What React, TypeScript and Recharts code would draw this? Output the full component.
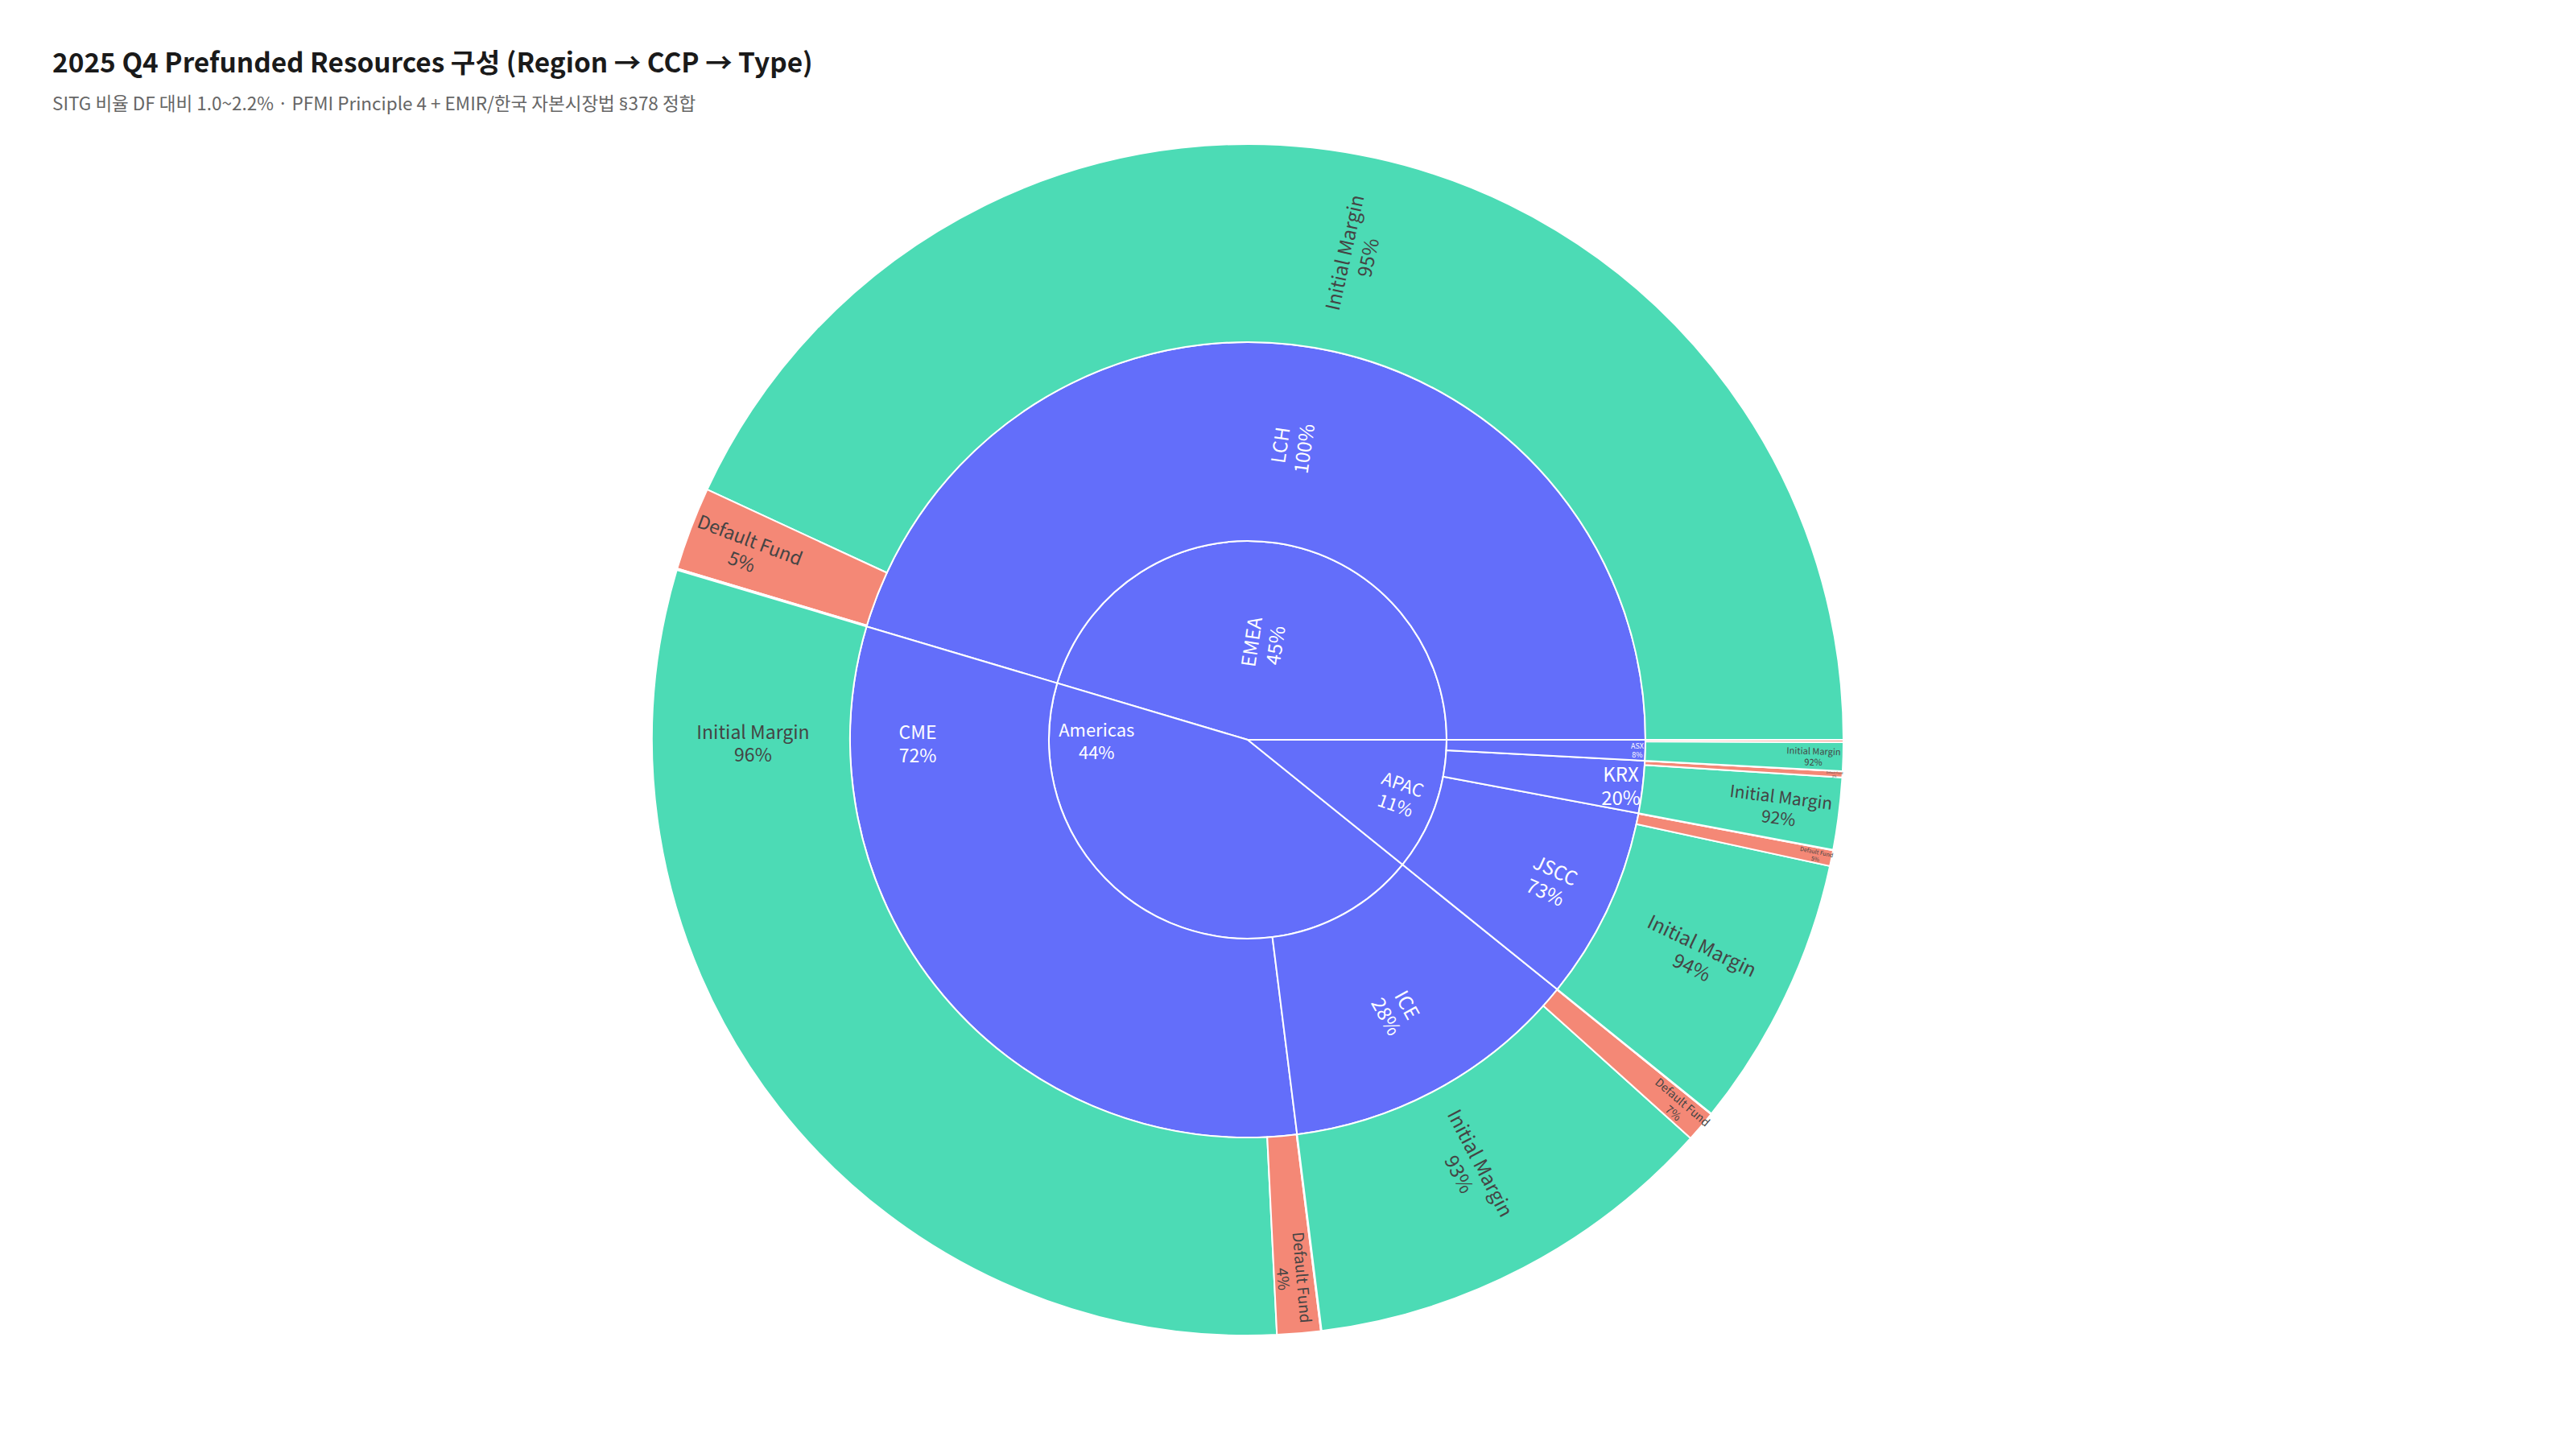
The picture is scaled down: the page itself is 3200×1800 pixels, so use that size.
import React from "react";
import { PieChart, Pie, Cell } from "recharts";

// hierarchy: Region -> CCP -> Type (values in USD bn)
const regions = ["EMEA", "Americas", "APAC"];
const ccps = ["LCH", "CME", "ICE", "JSCC", "KRX", "ASX"];
const ccpRegion = ["EMEA", "Americas", "Americas", "APAC", "APAC", "APAC"];
const types = ["Initial Margin", "Default Fund", "SITG"];
const initialMargin = [431.0, 303.8, 113.6, 74.0, 19.54, 7.74];
const defaultFund = [22.6, 11.8, 8.45, 4.28, 1.63, 0.64];
const sitg = [0.4, 0.2, 0.15, 0.12, 0.03, 0.02];

const BLUE = "#636efa";
const TYPE_FILL: Record<string, string> = {
  "Initial Margin": "#4cdbb5",
  "Default Fund": "#f48876",
  SITG: "#c492fb",
};

const CX = 1550;
const CY = 919;
const R1 = 247;
const R2 = 494;
const R3 = 740;
const FONT = "'Noto Sans CJK KR', 'Noto Sans', sans-serif";

type Row = { id: string; name: string; value: number; parentTotal: number; leaf: boolean };

const ccpTotals = ccps.map((_, i) => initialMargin[i] + defaultFund[i] + sitg[i]);
const regionTotals = regions.map((r) =>
  ccps.reduce((s, _, i) => (ccpRegion[i] === r ? s + ccpTotals[i] : s), 0)
);
const grandTotal = regionTotals.reduce((a, b) => a + b, 0);

const regionRows: Row[] = regions.map((r, i) => ({
  id: r,
  name: r,
  value: regionTotals[i],
  parentTotal: grandTotal,
  leaf: false,
}));

const orderedCcp = regions.flatMap((r) => ccps.map((c, i) => i).filter((i) => ccpRegion[i] === r));

const ccpRows: Row[] = orderedCcp.map((i) => ({
  id: ccps[i],
  name: ccps[i],
  value: ccpTotals[i],
  parentTotal: regionTotals[regions.indexOf(ccpRegion[i])],
  leaf: false,
}));

const typeRows: Row[] = orderedCcp.flatMap((i) => {
  const vals = [initialMargin[i], defaultFund[i], sitg[i]];
  return types.map((t, k) => ({
    id: `${ccps[i]}|${t}`,
    name: t,
    value: vals[k],
    parentTotal: ccpTotals[i],
    leaf: true,
  }));
});

// text placement per sector: orientation, font size, radial / angular fraction inside the sector
type LabelStyle = { o: "r" | "h"; fs: number; rf: number; af?: number };
const LABELS: Record<string, LabelStyle> = {
  EMEA: { o: "r", fs: 24, rf: 0.49 },
  Americas: { o: "h", fs: 22, rf: 0.76, af: 0.105 },
  APAC: { o: "r", fs: 22, rf: 0.81 },
  LCH: { o: "r", fs: 24, rf: 0.49 },
  CME: { o: "h", fs: 23, rf: 0.66, af: 0.15 },
  ICE: { o: "r", fs: 24, rf: 0.555 },
  JSCC: { o: "r", fs: 24, rf: 0.68 },
  KRX: { o: "h", fs: 24, rf: 0.89 },
  ASX: { o: "h", fs: 9, rf: 0.96 },
  "LCH|Initial Margin": { o: "r", fs: 24, rf: 0.5 },
  "LCH|Default Fund": { o: "r", fs: 23, rf: 0.7 },
  "CME|Initial Margin": { o: "h", fs: 23, rf: 0.49, af: 0.154 },
  "CME|Default Fund": { o: "r", fs: 19, rf: 0.72 },
  "ICE|Initial Margin": { o: "r", fs: 24, rf: 0.43 },
  "ICE|Default Fund": { o: "r", fs: 14, rf: 0.85 },
  "JSCC|Initial Margin": { o: "r", fs: 24, rf: 0.51 },
  "JSCC|Default Fund": { o: "r", fs: 7, rf: 0.92 },
  "KRX|Initial Margin": { o: "r", fs: 21, rf: 0.7 },
  "KRX|Default Fund": { o: "r", fs: 3.5, rf: 0.96 },
  "ASX|Initial Margin": { o: "r", fs: 11, rf: 0.85 },
};

const RAD = Math.PI / 180;

function renderLabel(props: any) {
  const p: Row = props.payload;
  const st = LABELS[p.id];
  if (!st) return null;
  const a0 = props.startAngle;
  const a1 = props.endAngle;
  const ang = a0 + (a1 - a0) * (st.af ?? 0.5);
  const r = props.innerRadius + (props.outerRadius - props.innerRadius) * st.rf;
  const x = props.cx + r * Math.cos(ang * RAD);
  const y = props.cy - r * Math.sin(ang * RAD);
  let rot = 0;
  if (st.o === "r") {
    rot = -ang;
    while (rot <= -90) rot += 180;
    while (rot > 90) rot -= 180;
  }
  const pct = Math.round((p.value / p.parentTotal) * 100) + "%";
  const fill = p.leaf ? "#444" : "#fff";
  return (
    <g key={p.id} transform={`translate(${x},${y}) rotate(${rot})`}>
      <text
        textAnchor="middle"
        dominantBaseline="central"
        fontSize={st.fs}
        fontFamily={FONT}
        fill={fill}
      >
        <tspan x={0} y={-0.62 * st.fs}>{p.name}</tspan>
        <tspan x={0} y={0.62 * st.fs}>{pct}</tspan>
      </text>
    </g>
  );
}

export default function App() {
  return (
    <div style={{ position: "absolute", left: 0, top: 0, width: 3200, height: 1800, background: "#fff" }}>
      <div
        style={{
          position: "absolute",
          left: 65,
          top: 59,
          fontFamily: FONT,
          fontSize: 33.4,
          fontWeight: 700,
          lineHeight: 1,
          color: "#1a1a1a",
          whiteSpace: "nowrap",
        }}
      >
        2025 Q4 Prefunded Resources 구성 (Region → CCP → Type)
      </div>
      <div
        style={{
          position: "absolute",
          left: 65,
          top: 116,
          fontFamily: FONT,
          fontSize: 22.5,
          lineHeight: 1,
          color: "#666",
          whiteSpace: "nowrap",
        }}
      >
        SITG 비율 DF 대비 1.0~2.2% · PFMI Principle 4 + EMIR/한국 자본시장법{" "}
        <span style={{ fontFamily: "'Noto Sans', sans-serif" }}>§</span>378 정합
      </div>
      <div style={{ position: "absolute", left: 0, top: 0 }}>
        <PieChart width={3200} height={1800} margin={{ top: 0, right: 0, bottom: 0, left: 0 }}>
          <Pie
            data={regionRows}
            dataKey="value"
            nameKey="name"
            cx={CX}
            cy={CY}
            innerRadius={0}
            outerRadius={R1}
            startAngle={0}
            endAngle={360}
            stroke="#fff"
            strokeWidth={2}
            label={renderLabel}
            labelLine={false}
            isAnimationActive={false}
          >
            {regionRows.map((r) => (
              <Cell key={r.id} fill={BLUE} />
            ))}
          </Pie>
          <Pie
            data={ccpRows}
            dataKey="value"
            nameKey="name"
            cx={CX}
            cy={CY}
            innerRadius={R1}
            outerRadius={R2}
            startAngle={0}
            endAngle={360}
            stroke="#fff"
            strokeWidth={2}
            label={renderLabel}
            labelLine={false}
            isAnimationActive={false}
          >
            {ccpRows.map((r) => (
              <Cell key={r.id} fill={BLUE} />
            ))}
          </Pie>
          <Pie
            data={typeRows}
            dataKey="value"
            nameKey="name"
            cx={CX}
            cy={CY}
            innerRadius={R2}
            outerRadius={R3}
            startAngle={0}
            endAngle={360}
            stroke="#fff"
            strokeWidth={2}
            label={renderLabel}
            labelLine={false}
            isAnimationActive={false}
          >
            {typeRows.map((r) => (
              <Cell key={r.id} fill={TYPE_FILL[r.name]} />
            ))}
          </Pie>
        </PieChart>
      </div>
    </div>
  );
}
